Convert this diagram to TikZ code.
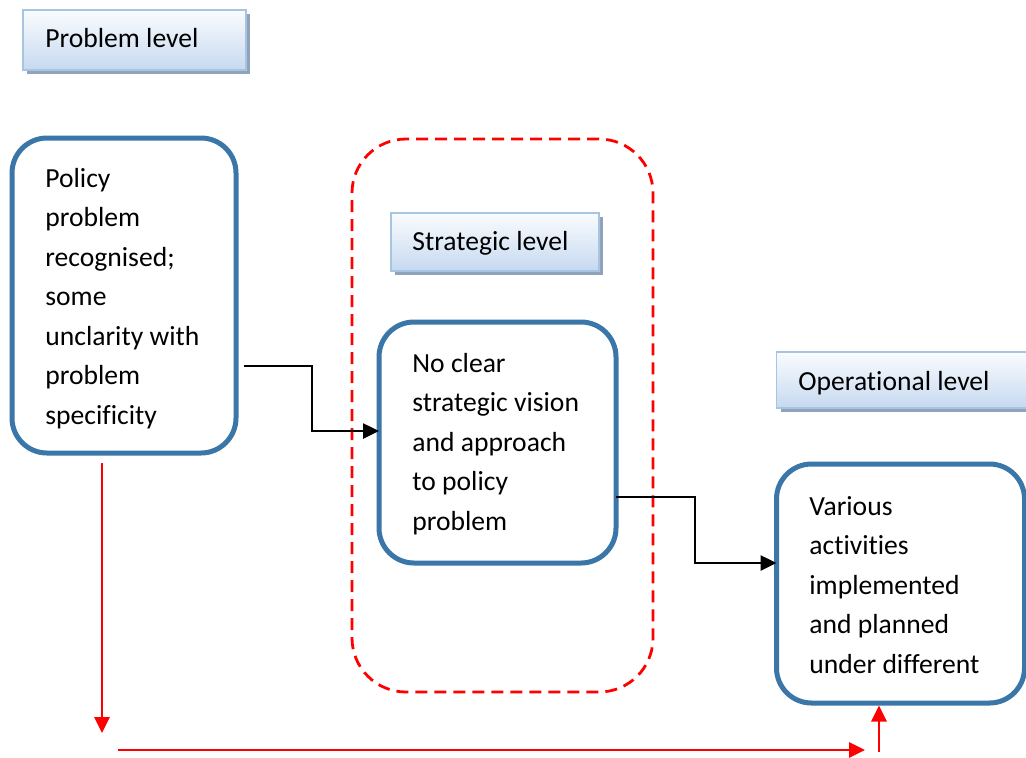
\documentclass[tikz,border=0pt]{standalone}
\usepackage{fontspec}
\setmainfont{Carlito}[Ligatures=NoCommon]
\usetikzlibrary{arrows.meta,shadows}
\definecolor{boxblue}{RGB}{58,118,168}
\definecolor{lvlborder}{RGB}{167,196,224}
\definecolor{lvltop}{RGB}{250,252,254}
\definecolor{lvlbot}{RGB}{198,217,240}
\definecolor{shadowc}{RGB}{145,163,186}
\begin{document}
\begin{tikzpicture}[x=0.5pt,y=-0.5pt,
  bigbox/.style={draw=boxblue,line width=2.5pt,rounded corners=17.5pt,outer sep=0pt,inner sep=0pt,fill=white},
  txt/.style={anchor=base west,inner sep=0pt,align=left,font=\fontsize{13.8pt}{19.75pt}\selectfont},
  lvl/.style={draw=lvlborder,line width=0.8pt,top color=lvltop,bottom color=lvlbot,outer sep=0pt,inner sep=0pt,
    copy shadow={shadow xshift=2pt,shadow yshift=-2pt,fill=shadowc,draw=none}},
  zone/.style={draw=red,line width=1.4pt,dash pattern=on 6pt off 3.5pt,rounded corners=27pt,outer sep=0pt,inner sep=0pt},
  conn/.style={line width=1.3pt,-{Triangle[length=8pt,width=7.5pt]}},
  rconn/.style={red,line width=1.4pt,-{Triangle[length=8pt,width=7.5pt]}}
]
\useasboundingbox (0,0) rectangle (1026,757);
\clip (0,0) rectangle (1026,757);

% strategic zone (dashed)
\node[zone,minimum width=150.5pt,minimum height=276.5pt] (zonebox) at (502.5,415.5) {};

% level headers
\node[lvl,minimum width=111.5pt,minimum height=30pt] (hprob) at (134.5,40) {};
\node[txt] (hprobt) at (45,47) {Problem level};
\node[lvl,minimum width=104pt,minimum height=29pt] (hstrat) at (495,242) {};
\node[txt] (hstratt) at (412,250) {Strategic level};
\node[lvl,minimum width=131.5pt,minimum height=28pt] (hop) at (908,380) {};
\node[txt] (hopt) at (798,390) {Operational level};

% main boxes (text anchored at the baseline of its last line)
\node[bigbox,minimum width=112pt,minimum height=157.5pt] (policy) at (124,295.5) {};
\node[txt] (policyt) at (45,424) {Policy\\problem\\recognised;\\some\\unclarity with\\problem\\specificity};

\node[bigbox,minimum width=118.5pt,minimum height=120.5pt] (strategy) at (497.5,442.5) {};
\node[txt] (strategyt) at (412,530) {No clear\\strategic vision\\and approach\\to policy\\problem};

\node[bigbox,minimum width=124pt,minimum height=119.5pt] (various) at (900.5,583.5) {};
\node[txt] (varioust) at (809,673) {Various\\activities\\implemented\\and planned\\under different};

% black connectors
\draw[conn] ([shift={(8,70.5)}]policy.east) -- ++(68,0) |- ([shift={(0,-11.5)}]strategy.west);
\draw[conn] ([shift={(0,54.5)}]strategy.east) -- ++(79,0) |- ([shift={(0,-20.5)}]various.west);

% red connectors
\coordinate (rdown) at (102,733);
\coordinate (rhs) at (118,750);
\coordinate (rhe) at (865,750);
\coordinate (rup) at (879,752);
\draw[rconn] ([shift={(-22,10)}]policy.south) -- (rdown);
\draw[rconn] (rhs) -- (rhe);
\draw[rconn] (rup) -- ([xshift=-10.75pt,yshift=-1.25pt]various.south);
\end{tikzpicture}
\end{document}
